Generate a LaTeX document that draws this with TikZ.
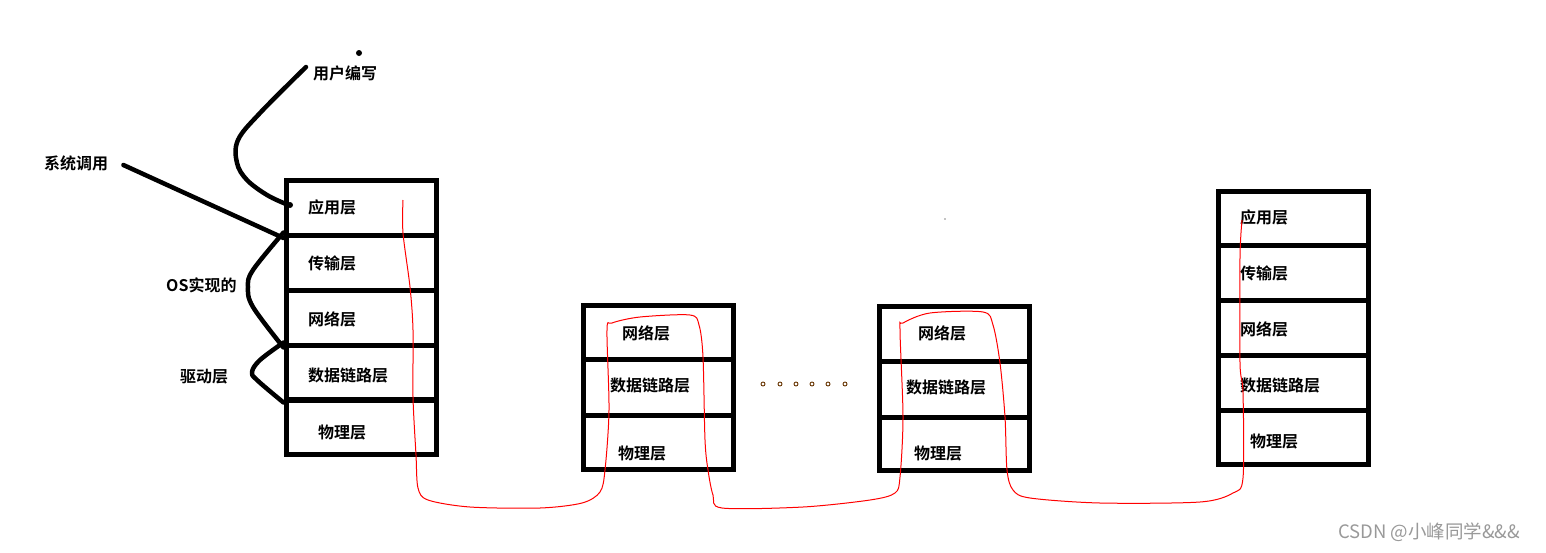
\documentclass[tikz,border=0pt]{standalone}
\usepackage{fontspec}
\newfontfamily\cjk{Noto Sans CJK SC}[BoldFont={Noto Sans CJK SC Bold}]
\usepackage{tikz}
\usetikzlibrary{arrows.meta}

\tikzset{
  cell/.style={draw, line width=5pt, minimum width=150pt, minimum height=55pt, inner sep=0pt},
  lbl/.style={anchor=west, inner sep=0pt, font=\cjk\bfseries\fontsize{16}{18}\selectfont},
  brace/.style={line width=4.5pt, line cap=round, line join=round},
  wire/.style={red, line width=1pt}
}

\begin{document}
\begin{tikzpicture}[x=1pt, y=-1pt]
\useasboundingbox (0,0) rectangle (1546,552);
% stack 1
\begin{scope}
    \node[cell] (a1) at (361,208) {};
    \node[cell] (a2) at (361,262.5) {};
    \node[cell] (a3) at (361,317.5) {};
    \node[cell] (a4) at (361,372.5) {};
    \node[cell] (a5) at (361,427) {};
    \node[lbl] (ta1) at (308,207) {应用层};
    \node[lbl] (ta2) at (308,263) {传输层};
    \node[lbl] (ta3) at (308,319) {网络层};
    \node[lbl] (ta4) at (308,375) {数据链路层};
    \node[lbl] (ta5) at (318,432) {物理层};
\end{scope}
% stack 2
\begin{scope}
    \node[cell, minimum height=54pt] (b1) at (658,332) {};
    \node[cell, minimum height=56pt] (b2) at (658,387) {};
    \node[cell, minimum height=54pt] (b3) at (658,442) {};
    \node[lbl] (tb1) at (622,333) {网络层};
    \node[lbl] (tb2) at (610,385) {数据链路层};
    \node[lbl] (tb3) at (618,453) {物理层};
\end{scope}
% stack 3
\begin{scope}
    \node[cell, minimum height=55pt] (c1) at (954,333.5) {};
    \node[cell, minimum height=56pt] (c2) at (954,389) {};
    \node[cell, minimum height=53pt] (c3) at (954,443.5) {};
    \node[lbl] (tc1) at (918,333) {网络层};
    \node[lbl] (tc2) at (906,387) {数据链路层};
    \node[lbl] (tc3) at (914,453) {物理层};
\end{scope}
% stack 4
\begin{scope}
    \node[cell, minimum height=54pt] (d1) at (1293,218) {};
    \node[cell] (d2) at (1293,272.5) {};
    \node[cell] (d3) at (1293,327.5) {};
    \node[cell] (d4) at (1293,382.5) {};
    \node[cell, minimum height=54pt] (d5) at (1293,437) {};
    \node[lbl] (td1) at (1240,217) {应用层};
    \node[lbl] (td2) at (1240,273) {传输层};
    \node[lbl] (td3) at (1240,329) {网络层};
    \node[lbl] (td4) at (1240,385) {数据链路层};
    \node[lbl] (td5) at (1250,441) {物理层};
\end{scope}

% notes on the left
\node[lbl] (sys) at (44,163) {系统调用};
\node[lbl] (usr) at (313,73) {用户编写};
\node[lbl] (os) at (166,285) {OS实现的};
\node[lbl] (drv) at (180,377) {驱动层};

\coordinate (u0) at (306,67);
\coordinate (u1) at (286,204);
\path [brace] (sys.east) ++(15,2) coordinate (s0);
\draw [brace] (s0) -- (a1.south west);
\draw [brace] plot [smooth, tension=0.6] coordinates {(u0) (260,113) (238,140) (237,163) (247,180) (267,195) (u1)};
\fill (290,205) circle (3pt);
\fill (359,53) circle (3pt);
\draw [brace] plot [smooth, tension=0.6] coordinates {(a2.north west) (253,270) (248,287) (253,307) (a3.south west)};
\draw [brace] plot [smooth, tension=0.6] coordinates {(a4.north west) (260,360) (252,372) (257,380) (a4.south west)};

% dots between routers
\foreach \x in {763,780,796,812,828,845}
    \draw [black!60!orange, line width=0.9pt] (\x,384) circle (2pt);
\fill (945,219) circle (0.7pt);

% red data path
\coordinate (r0) at (403,200);
\coordinate (r1) at (1242,220);
\draw [wire] plot [smooth, tension=0.5] coordinates {(r0) (403,233) (410,287) (413,330) (413,397) (416,455)
    (418,488) (428,500) (470,507) (540,508) (582,503) (600,492) (605,470) (609,410) (607,330) (612,323)
    (640,317) (690,315) (699,325) (703,357) (705,440) (708,470) (713,495) (722,508) (803,507) (870,500)
    (895,493) (900,477) (903,417) (900,330) (903,323) (930,313) (983,312) (993,325) (1000,363) (1005,417)
    (1007,470) (1013,490) (1030,498) (1100,503) (1200,502) (1233,493) (1243,478) (1243,393) (1240,363)
    (1240,257) (r1)};

% watermark
\node[anchor=west, inner sep=0pt, text=black!40, font=\cjk\fontsize{18.5}{20}\selectfont] (wm) at (1338,532) {CSDN @小峰同学\&\&\&};
\end{tikzpicture}
\end{document}
